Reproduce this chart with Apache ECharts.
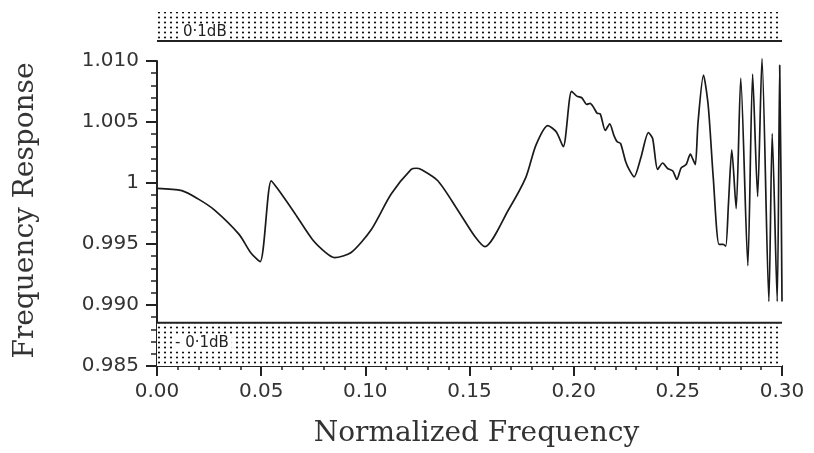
<!DOCTYPE html>
<html>
<head>
<meta charset="utf-8">
<script src="https://cdn.jsdelivr.net/npm/echarts@6/dist/echarts.min.js"></script>
<style>html,body{margin:0;padding:0;background:#fff;}#c{width:814px;height:453px;}</style>
</head>
<body>
<div id="c"></div>
<script>
// Normalized frequency samples and frequency response readings
const freq = [0, 0.0119, 0.0197, 0.0275, 0.0394, 0.0450, 0.0495, 0.0548, 0.0581, 0.0662, 0.0746, 0.0810, 0.0852,
  0.0932, 0.1028, 0.1124, 0.1220, 0.1244, 0.1268, 0.1348, 0.1444, 0.1525, 0.1574, 0.1686, 0.1770, 0.1819, 0.1876,
  0.1917, 0.1950, 0.1990, 0.2015, 0.2039, 0.2063, 0.2079, 0.2096, 0.2112, 0.2128, 0.2152, 0.2173, 0.2193, 0.2209,
  0.2225, 0.2249, 0.2266, 0.2290, 0.2322, 0.2359, 0.2379, 0.2403, 0.2427, 0.2451, 0.2476, 0.2495, 0.2516, 0.2540,
  0.2560, 0.2573, 0.2584, 0.2597, 0.2623, 0.2646, 0.2670, 0.2698, 0.2718, 0.2730, 0.2743, 0.2759, 0.2780, 0.2802,
  0.2836, 0.2859, 0.2883, 0.2904, 0.2937, 0.2953, 0.2977, 0.2989, 0.3000];
const response = [0.99956, 0.99937, 0.99870, 0.99780, 0.99579, 0.99429, 0.99355, 1.00018, 0.99948, 0.99750, 0.99537, 0.99430, 0.99389,
  0.99430, 0.99617, 0.99910, 1.00111, 1.00121, 1.00111, 1.00018, 0.99777, 0.99563, 0.99478, 0.99777, 1.00044, 1.00311, 1.00471,
  1.00418, 1.00298, 1.00752, 1.00712, 1.00699, 1.00645, 1.00653, 1.00619, 1.00573, 1.00565, 1.00431, 1.00485, 1.00391, 1.00338,
  1.00325, 1.00178, 1.00111, 1.00050, 1.00204, 1.00413, 1.00365, 1.00111, 1.00164, 1.00119, 1.00098, 1.00030, 1.00124, 1.00151,
  1.00236, 1.00191, 1.00151, 1.00498, 1.00885, 1.00631, 1.00044, 0.99497, 0.99497, 0.99483, 0.99830, 1.00271, 0.99790, 1.00859,
  0.99323, 1.00893, 0.99889, 1.01019, 0.99029, 1.00405, 0.99029, 1.00966, 0.99029];
// ±0.1 dB tolerance limits (linear)
const upperLimit = 1.01158;
const lowerLimit = 0.98855;
const limitFreqs = [0, 0.30];
const upperLabel = '0·1dB';
const lowerLabel = '- 0·1dB';
const xTitle = 'Normalized Frequency';
const yTitle = 'Frequency Response';

function dotPattern() {
  const cv = document.createElement('canvas');
  cv.width = 6; cv.height = 5;
  const g = cv.getContext('2d');
  g.fillStyle = '#fff'; g.fillRect(0, 0, 6, 5);
  g.fillStyle = '#111';
  g.beginPath(); g.arc(3, 2.5, 1.1, 0, Math.PI * 2); g.fill();
  return { image: cv, repeat: 'repeat' };
}
const pat = dotPattern();

const curve = freq.map((f, i) => [f, response[i]]);
const upperLine = limitFreqs.map(f => [f, upperLimit]);
const lowerLine = limitFreqs.map(f => [f, lowerLimit]);

const chart = echarts.init(document.getElementById('c'), null, { renderer: 'canvas' });
const ink = '#222';
chart.setOption({
  backgroundColor: '#fff',
  animation: false,
  grid: [
    { left: 157, right: 32, top: 61, bottom: 80 },
    { left: 157, right: 32, top: 12, height: 30 }
  ],
  xAxis: [
    {
      gridIndex: 0, type: 'value', min: 0, max: 0.30, interval: 0.05,
      name: xTitle, nameLocation: 'middle', nameGap: 54,
      nameTextStyle: { fontFamily: 'DejaVu Serif', fontSize: 28, color: '#333', padding: [0, 0, 0, 14] },
      axisLine: { lineStyle: { color: ink, width: 2 } },
      axisTick: { show: true, length: 10, lineStyle: { color: ink, width: 2 } },
      minorTick: { show: true, splitNumber: 5, length: 4, lineStyle: { color: ink, width: 1.5 } },
      axisLabel: { margin: 16, fontFamily: 'DejaVu Sans', fontSize: 20, color: '#333', formatter: v => v.toFixed(2) },
      splitLine: { show: false }
    },
    { gridIndex: 1, type: 'value', min: 0, max: 0.30, show: false }
  ],
  yAxis: [
    {
      gridIndex: 0, type: 'value', min: 0.985, max: 1.010, interval: 0.005,
      name: yTitle, nameLocation: 'middle', nameGap: 117, nameRotate: 90,
      nameTextStyle: { fontFamily: 'DejaVu Serif', fontSize: 28, color: '#333', padding: [0, 0, 0, 6] },
      axisLine: { show: true, lineStyle: { color: ink, width: 2 } },
      axisTick: { show: true, length: 11, lineStyle: { color: ink, width: 2 } },
      minorTick: { show: true, splitNumber: 5, length: 6, lineStyle: { color: ink, width: 1.5 } },
      axisLabel: { margin: 18, fontFamily: 'DejaVu Sans', fontSize: 20, color: '#333',
        formatter: v => (Math.abs(v - 1) < 1e-9 ? '1' : v.toFixed(3)) },
      splitLine: { show: false }
    },
    { gridIndex: 1, type: 'value', min: 1.0115, max: 1.0139, show: false }
  ],
  series: [
    {
      type: 'line', xAxisIndex: 0, yAxisIndex: 0, data: lowerLine, showSymbol: false, silent: true,
      lineStyle: { color: ink, width: 2 },
      markArea: {
        silent: true,
        itemStyle: { color: pat },
        label: { show: true, position: 'insideLeft', formatter: lowerLabel, offset: [10, -1],
          fontFamily: 'DejaVu Sans', fontSize: 15, color: '#222', backgroundColor: '#fff', padding: [1, 3, 0, 3] },
        data: [[{ yAxis: 0.985 }, { yAxis: lowerLimit }]]
      }
    },
    {
      type: 'line', xAxisIndex: 1, yAxisIndex: 1, data: upperLine, showSymbol: false, silent: true, clip: false,
      lineStyle: { color: ink, width: 2 },
      markArea: {
        silent: true,
        itemStyle: { color: pat },
        label: { show: true, position: 'insideLeft', formatter: upperLabel, offset: [18, 6],
          fontFamily: 'DejaVu Sans', fontSize: 15, color: '#222', backgroundColor: '#fff', padding: [1, 3, 0, 3] },
        data: [[{ yAxis: upperLimit + 0.0001 }, { yAxis: 1.0139 }]]
      }
    },
    {
      type: 'line', xAxisIndex: 0, yAxisIndex: 0, data: curve, showSymbol: false, smooth: 0.25,
      clip: false, lineStyle: { color: '#1a1a1a', width: 1.7 }
    }
  ]
});
</script>
</body>
</html>
